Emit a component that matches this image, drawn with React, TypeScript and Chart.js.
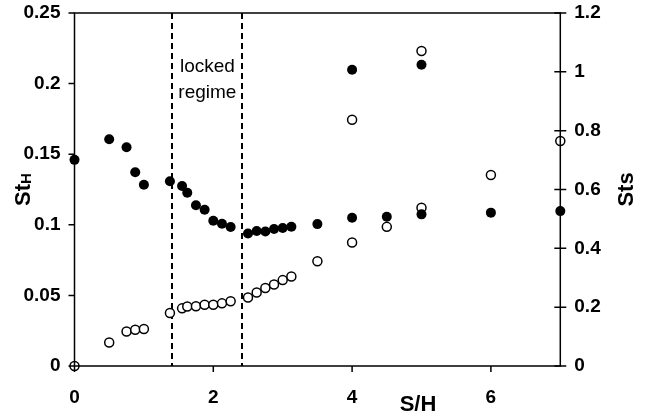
import React, { useEffect, useRef } from "react";
import { Chart, registerables } from "chart.js";

Chart.register(...registerables);

// S/H positions and Strouhal numbers
const stHX = [0, 0.5, 0.75, 0.875, 1, 1.375, 1.55, 1.625, 1.75, 1.875, 2, 2.125, 2.25, 2.5, 2.625, 2.75, 2.875, 3, 3.125, 3.5, 4, 4.5, 5, 6, 7, 4, 5];
const stHY = [0.146, 0.1606, 0.1549, 0.1372, 0.1284, 0.1308, 0.1275, 0.1227, 0.1138, 0.1107, 0.1029, 0.1007, 0.0984, 0.0939, 0.0956, 0.0953, 0.097, 0.0977, 0.0986, 0.1005, 0.105, 0.1057, 0.1074, 0.1086, 0.1097, 0.2098, 0.2133];
const stsX = [0, 0.5, 0.75, 0.875, 1, 1.375, 1.55, 1.625, 1.75, 1.875, 2, 2.125, 2.25, 2.5, 2.625, 2.75, 2.875, 3, 3.125, 3.5, 4, 4.5, 5, 4, 5, 6, 7];
const stsY = [0, 0.08, 0.117, 0.123, 0.126, 0.18, 0.196, 0.202, 0.203, 0.208, 0.208, 0.213, 0.22, 0.233, 0.25, 0.265, 0.277, 0.292, 0.304, 0.356, 0.42, 0.473, 0.538, 0.837, 1.071, 0.649, 0.765];

const xTicks = [0, 2, 4, 6];
const leftTicks = [0, 0.05, 0.1, 0.15, 0.2, 0.25];
const rightTicks = [0, 0.2, 0.4, 0.6, 0.8, 1, 1.2];
const lockedBounds = [1.41, 2.42];
const lockedLabel = ["locked", "regime"];
const lockedLabelY = [0.208, 0.19];

const FONT = "'Liberation Sans', Arial, Helvetica, sans-serif";

export default function App() {
  const ref = useRef<HTMLCanvasElement | null>(null);

  useEffect(() => {
    document.body.style.margin = "0";
    const canvas = ref.current;
    if (!canvas) return;

    const overlay = {
      id: "overlay",
      beforeDatasetsDraw(chart: any) {
        const { ctx, chartArea: a, scales } = chart;
        ctx.save();
        ctx.strokeStyle = "#000";
        ctx.lineWidth = 2;
        ctx.setLineDash([6, 4]);
        lockedBounds.forEach((v) => {
          const px = Math.round(scales.x.getPixelForValue(v));
          ctx.beginPath();
          ctx.moveTo(px, a.top);
          ctx.lineTo(px, a.bottom);
          ctx.stroke();
        });
        ctx.setLineDash([]);
        const cx = (scales.x.getPixelForValue(lockedBounds[0]) + scales.x.getPixelForValue(lockedBounds[1])) / 2;
        ctx.fillStyle = "#000";
        ctx.font = `19px ${FONT}`;
        ctx.textAlign = "center";
        ctx.textBaseline = "alphabetic";
        lockedLabel.forEach((t, i) => {
          ctx.fillText(t, cx, scales.y.getPixelForValue(lockedLabelY[i]));
        });
        ctx.restore();
      },
      afterDatasetsDraw(chart: any) {
        const { ctx, chartArea: a, scales } = chart;
        ctx.save();
        ctx.strokeStyle = "#000";
        ctx.lineWidth = 1.5;
        ctx.strokeRect(a.left, a.top, a.right - a.left, a.bottom - a.top);
        ctx.beginPath();
        leftTicks.forEach((v) => {
          const py = scales.y.getPixelForValue(v);
          ctx.moveTo(a.left - 6, py);
          ctx.lineTo(a.left, py);
        });
        rightTicks.forEach((v) => {
          const py = scales.y2.getPixelForValue(v);
          ctx.moveTo(a.right - 6, py);
          ctx.lineTo(a.right + 6, py);
        });
        xTicks.forEach((v) => {
          const px = scales.x.getPixelForValue(v);
          ctx.moveTo(px, a.bottom);
          ctx.lineTo(px, a.bottom + 6);
        });
        ctx.stroke();

        ctx.fillStyle = "#000";
        const midY = (a.top + a.bottom) / 2;
        // left title St_H
        ctx.save();
        ctx.translate(24, midY);
        ctx.rotate(-Math.PI / 2);
        ctx.font = `bold 22px ${FONT}`;
        const wSt = ctx.measureText("St").width;
        ctx.font = `bold 15px ${FONT}`;
        const wH = ctx.measureText("H").width;
        const start = -(wSt + wH) / 2;
        ctx.textBaseline = "middle";
        ctx.textAlign = "left";
        ctx.font = `bold 22px ${FONT}`;
        ctx.fillText("St", start, 0);
        ctx.font = `bold 15px ${FONT}`;
        ctx.fillText("H", start + wSt, 3);
        ctx.restore();
        // right title
        ctx.save();
        ctx.translate(627, midY);
        ctx.rotate(-Math.PI / 2);
        ctx.font = `bold 22px ${FONT}`;
        ctx.textAlign = "center";
        ctx.textBaseline = "middle";
        ctx.fillText("Sts", 0, 0);
        ctx.restore();
        // x title
        ctx.font = `bold 22px ${FONT}`;
        ctx.textAlign = "center";
        ctx.textBaseline = "middle";
        ctx.fillText("S/H", 418, 405);
        ctx.restore();
      },
    };

    const tickFont = { family: FONT, size: 19, weight: "bold" as const };

    const chart = new Chart(canvas, {
      type: "scatter",
      data: {
        datasets: [
          {
            label: "StH",
            data: stHX.map((x, i) => ({ x, y: stHY[i] })),
            yAxisID: "y",
            pointRadius: 5,
            pointBackgroundColor: "#000",
            pointBorderColor: "#000",
            pointBorderWidth: 0,
            clip: false as any,
          },
          {
            label: "Sts",
            data: stsX.map((x, i) => ({ x, y: stsY[i] })),
            yAxisID: "y2",
            pointRadius: 4.5,
            pointBackgroundColor: "#fff",
            pointBorderColor: "#000",
            pointBorderWidth: 1.5,
            clip: false as any,
          },
        ],
      },
      options: {
        responsive: false,
        animation: false,
        layout: { padding: { top: 13, left: 0, right: 0, bottom: 0 } },
        plugins: { legend: { display: false }, tooltip: { enabled: false } },
        scales: {
          x: {
            type: "linear",
            position: "bottom",
            min: 0,
            max: 7,
            grid: { display: false, drawTicks: false },
            border: { display: false },
            ticks: { font: tickFont, color: "#000", padding: 20, maxRotation: 0 },
            afterBuildTicks: (s: any) => {
              s.ticks = xTicks.map((v) => ({ value: v }));
            },
            afterFit: (s: any) => {
              s.height = 50;
              s.paddingLeft = 0;
              s.paddingRight = 0;
            },
          },
          y: {
            type: "linear",
            position: "left",
            min: 0,
            max: 0.25,
            grid: { display: false, drawTicks: false },
            border: { display: false },
            ticks: { font: tickFont, color: "#000", padding: 14, callback: (v: any) => String(+Number(v).toFixed(2)) },
            afterBuildTicks: (s: any) => {
              s.ticks = leftTicks.map((v) => ({ value: v }));
            },
            afterFit: (s: any) => {
              s.width = 74.5;
              s.paddingTop = 0;
              s.paddingBottom = 0;
            },
          },
          y2: {
            type: "linear",
            position: "right",
            min: 0,
            max: 1.2,
            grid: { display: false, drawTicks: false },
            border: { display: false },
            ticks: { font: tickFont, color: "#000", padding: 14, callback: (v: any) => String(+Number(v).toFixed(1)) },
            afterBuildTicks: (s: any) => {
              s.ticks = rightTicks.map((v) => ({ value: v }));
            },
            afterFit: (s: any) => {
              s.width = 89.7;
              s.paddingTop = 0;
              s.paddingBottom = 0;
            },
          },
        },
      },
      plugins: [overlay],
    });

    return () => chart.destroy();
  }, []);

  return <canvas ref={ref} width={650} height={416} style={{ display: "block" }} />;
}
